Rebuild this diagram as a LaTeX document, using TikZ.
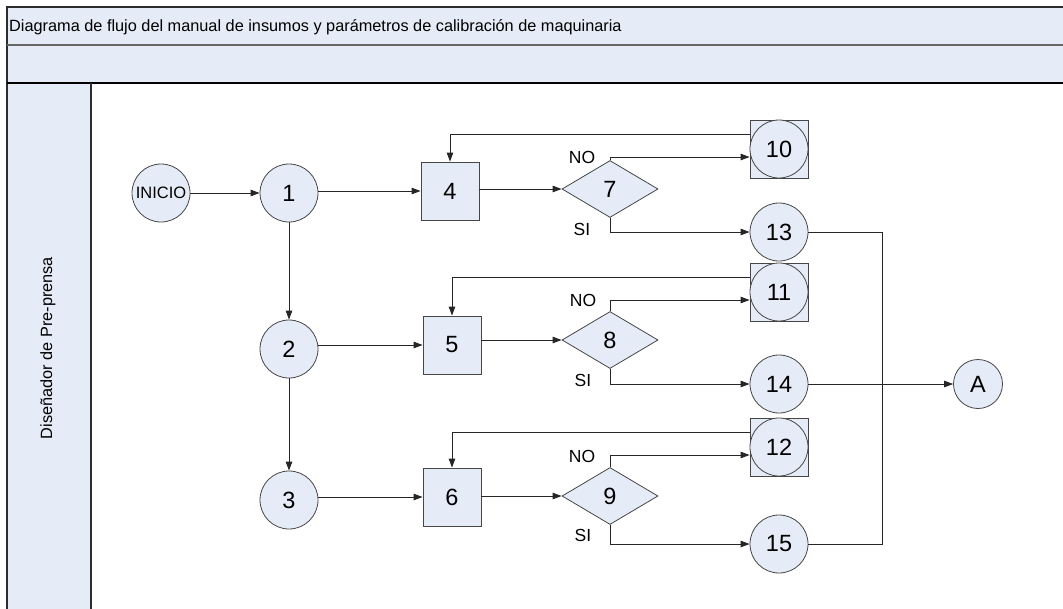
\documentclass[tikz,border=0pt]{standalone}
\usepackage{fontspec}
\setmainfont{Liberation Sans}
\usetikzlibrary{arrows.meta,shapes.geometric}
\definecolor{lanefill}{RGB}{230,236,247}
\definecolor{nodeline}{RGB}{70,70,70}
\definecolor{frameline}{RGB}{45,45,45}
\begin{document}
\begin{tikzpicture}[x=1pt,y=-1pt,
  arr/.style={-{Triangle[length=9pt,width=6.5pt]},line width=0.9pt,draw=black!85},
  ln/.style={line width=0.9pt,draw=black!85},
  numfont/.style={font=\fontsize{23.5}{28}\selectfont},
  proc/.style={circle,draw=nodeline,fill=lanefill,line width=0.8pt,minimum size=58pt,inner sep=0pt,numfont},
  task/.style={rectangle,draw=nodeline,fill=lanefill,line width=0.8pt,minimum size=58pt,inner sep=0pt,numfont},
  decision/.style={diamond,draw=nodeline,fill=lanefill,line width=0.8pt,minimum width=96pt,minimum height=57pt,inner sep=0pt,numfont},
  frame/.style={rectangle,draw=nodeline,fill=lanefill,line width=0.8pt,minimum size=58pt,inner sep=0pt},
  lbl/.style={inner sep=0pt,font=\fontsize{17.5}{20}\selectfont},
]
\path[use as bounding box] (0,0) rectangle (1063,608);
\clip (0,0) rectangle (1063,608);

% swimlane frame
\fill[lanefill] (7,7) rectangle (1075,83);
\fill[lanefill] (7,83) rectangle (91,620);
\draw[frameline,line width=1.8pt] (7,620) -- (7,7) -- (1075,7);
\draw[black!60,line width=1.8pt] (7,45) -- (1075,45);
\draw[black,line width=1.8pt] (7,83) -- (1075,83);
\draw[frameline,line width=1.4pt] (91,83) -- (91,620);
\node[anchor=west,inner sep=0pt,font=\fontsize{16.3}{19}\selectfont] (title) at (9,27)
  {Diagrama de flujo del manual de insumos y parámetros de calibración de maquinaria};
\node[rotate=90,inner sep=0pt,font=\fontsize{16.3}{19}\selectfont] (lane) at (48,348) {Diseñador de Pre-prensa};

% row 1
\node[proc,font=\fontsize{16.5}{19}\selectfont] (ini) at (161,193) {INICIO};
\node[proc] (n1) at (289,193) {1};
\node[task] (n4) at (450,191) {4};
\node[decision] (d7) at (610,189) {7};
\node[frame] (f10) at (779,149) {};
\node[proc] (n10) at (f10) {10};
\node[proc] (n13) at (779,232) {13};

% row 2
\node[proc] (n2) at (289,349) {2};
\node[task] (n5) at (452,345) {5};
\node[decision] (d8) at (610,340) {8};
\node[frame] (f11) at (779,292) {};
\node[proc] (n11) at (f11) {11};
\node[proc] (n14) at (779,384) {14};

% row 3
\node[proc] (n3) at (289,500) {3};
\node[task] (n6) at (452,497) {6};
\node[decision] (d9) at (610,496) {9};
\node[frame] (f12) at (779,447) {};
\node[proc] (n12) at (f12) {12};
\node[proc] (n15) at (779,544) {15};

% off-page connector
\node[proc,minimum size=49pt] (A) at (978,384) {A};
\coordinate (bus) at (882,0);

% decision labels
\node[lbl] (no7) at (582,157) {NO};
\node[lbl] (si7) at (582,229) {SI};
\node[lbl] (no8) at (583,300) {NO};
\node[lbl] (si8) at (583,380) {SI};
\node[lbl] (no9) at (582,456) {NO};
\node[lbl] (si9) at (583,535) {SI};

% main flow
\draw[arr] (ini) -- (n1);
\draw[arr] (n1.east |- n4.west) -- (n4.west);
\draw[arr] (n4.east |- d7.west) -- (d7.west);
\draw[arr] (n1) -- (n2);
\draw[arr] (n2) -- (n3);
\draw[arr] (n2.east |- n5.west) -- (n5.west);
\draw[arr] (n5.east |- d8.west) -- (d8.west);
\draw[arr] (n3.east |- n6.west) -- (n6.west);
\draw[arr] (n6.east |- d9.west) -- (d9.west);

% NO branches and returns
\draw[arr] (d7.north) |- ([yshift=-8pt]f10.west);
\draw[arr] ([yshift=15pt]f10.west) -| (n4.north);
\draw[arr] (d8.north) |- ([yshift=-8pt]f11.west);
\draw[arr] ([yshift=15pt]f11.west) -| (n5.north);
\draw[arr] (d9.north) |- ([yshift=-8pt]f12.west);
\draw[arr] ([yshift=15pt]f12.west) -| (n6.north);

% SI branches
\draw[arr] (d7.south) |- (n13.west);
\draw[arr] (d8.south) |- (n14.west);
\draw[arr] (d9.south) |- (n15.west);

% gathering line and exit
\draw[ln] (n13.east) -- (n13.east -| bus) -- (bus |- n15.east) -- (n15.east);
\draw[arr] (n14.east) -- (A.west);
\end{tikzpicture}
\end{document}
